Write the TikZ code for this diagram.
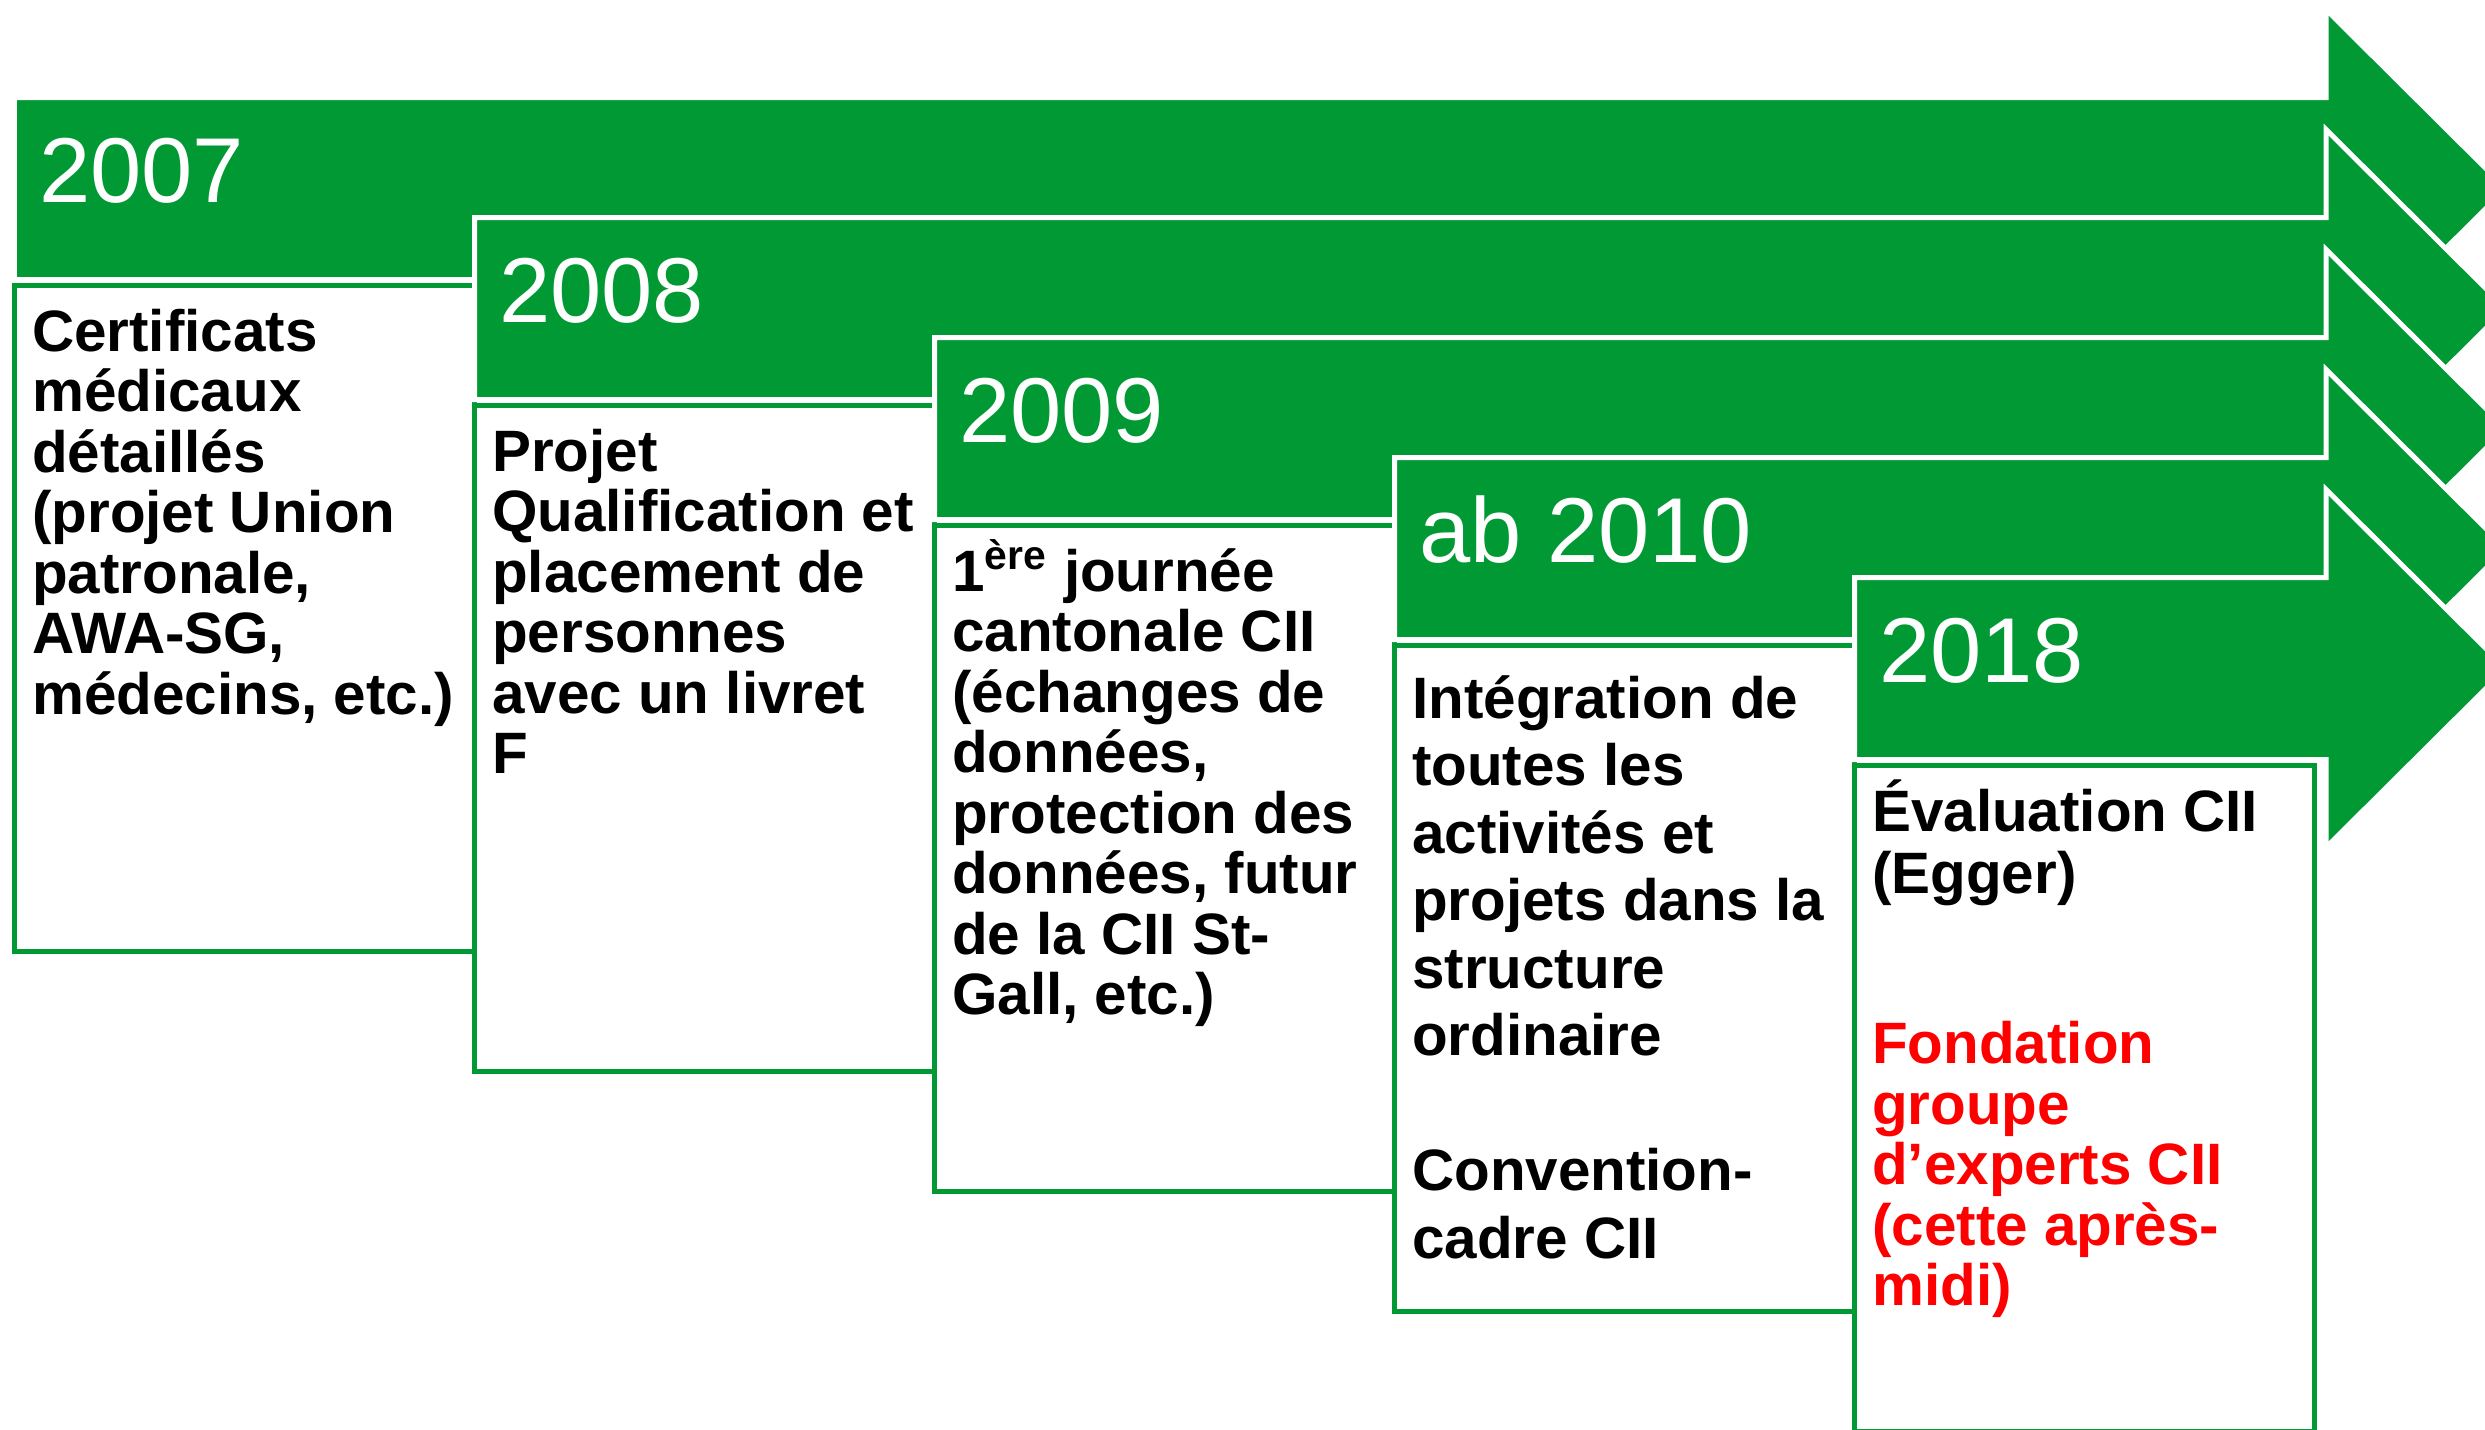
\documentclass[tikz,border=0pt]{standalone}
\usepackage{fontspec}
\setmainfont{Liberation Sans}
\usepackage{xcolor}
\usetikzlibrary{calc,positioning}

\definecolor{cgreen}{RGB}{0,153,51}
\definecolor{cred}{RGB}{255,0,0}

\tikzset{
	yeararrow/.style={fill=cgreen, draw=white, line width=1.42pt, line join=miter},
	yearbox/.style={fill=white, draw=cgreen, line width=1.42pt},
	yearlabel/.style={anchor=base west, inner sep=0pt, text=white, font=\fontsize{26.2}{30}\selectfont},
	% anchored at the baseline of the last line
	boxtext/.style={anchor=base west, inner sep=0pt, align=left, font=\bfseries\fontsize{16.6}{17.2}\selectfont},
}

\begin{document}
\begin{tikzpicture}[x=0.01cm, y=-0.01cm]
	\useasboundingbox (0,0) rectangle (2485,1429);
	\clip (0,0) rectangle (2485,1429);
	% arrows and boxes, one step per year
	\foreach \i in {0,1,2,3,4} {
		\pgfmathsetmacro{\xl}{14.5+460*\i}
		\pgfmathsetmacro{\yt}{97.5+120*\i}
		\draw[yeararrow] (\xl,\yt) -- (2326,\yt) -- (2326,\yt-88) -- (2506,\yt+91)
			-- (2326,\yt+270) -- (2326,\yt+182) -- (\xl,\yt+182) -- cycle;
		\draw[yearbox] (\xl,\yt+188) rectangle ++(460,666);
	}
	% years
	\node[yearlabel] (yr07) at (38.5,202) {2007};
	\node[yearlabel] (yr08) at (498.5,322) {2008};
	\node[yearlabel] (yr09) at (958.5,442) {2009};
	\node[yearlabel] (yr10) at (1418.5,562) {ab 2010};
	\node[yearlabel] (yr18) at (1878.5,682) {2018};
	% texts
	\node[boxtext] (txt07) at (31.5,714.2) {Certificats\\m\'edicaux\\d\'etaill\'es\\(projet Union\\patronale,\\AWA-SG,\\m\'edecins, etc.)};
	\node[boxtext] (txt08) at (491.5,773.8) {Projet\\Qualification et\\placement de\\personnes\\avec un livret\\F};
	\node[boxtext] (txt09) at (951.5,1014.7) {1\textsuperscript{\`ere} journ\'ee\\cantonale CII\\(\'echanges de\\donn\'ees,\\protection des\\donn\'ees, futur\\de la CII St-\\Gall, etc.)};
	\node[boxtext, font=\bfseries\fontsize{16.6}{19.2}\selectfont] (txt10) at (1411.5,1258.3) {Int\'egration de\\toutes les\\activit\'es et\\projets dans la\\structure\\ordinaire\\[19.2pt]Convention-\\cadre CII};
	\node[boxtext, font=\bfseries\fontsize{16.6}{17.6}\selectfont] (txt18) at (1871.5,893.4) {\'Evaluation CII\\(Egger)};
	\node[boxtext, text=cred] (txt18b) at (1871.5,1305.8) {Fondation\\groupe\\d’experts CII\\(cette apr\`es-\\midi)};
\end{tikzpicture}
\end{document}
